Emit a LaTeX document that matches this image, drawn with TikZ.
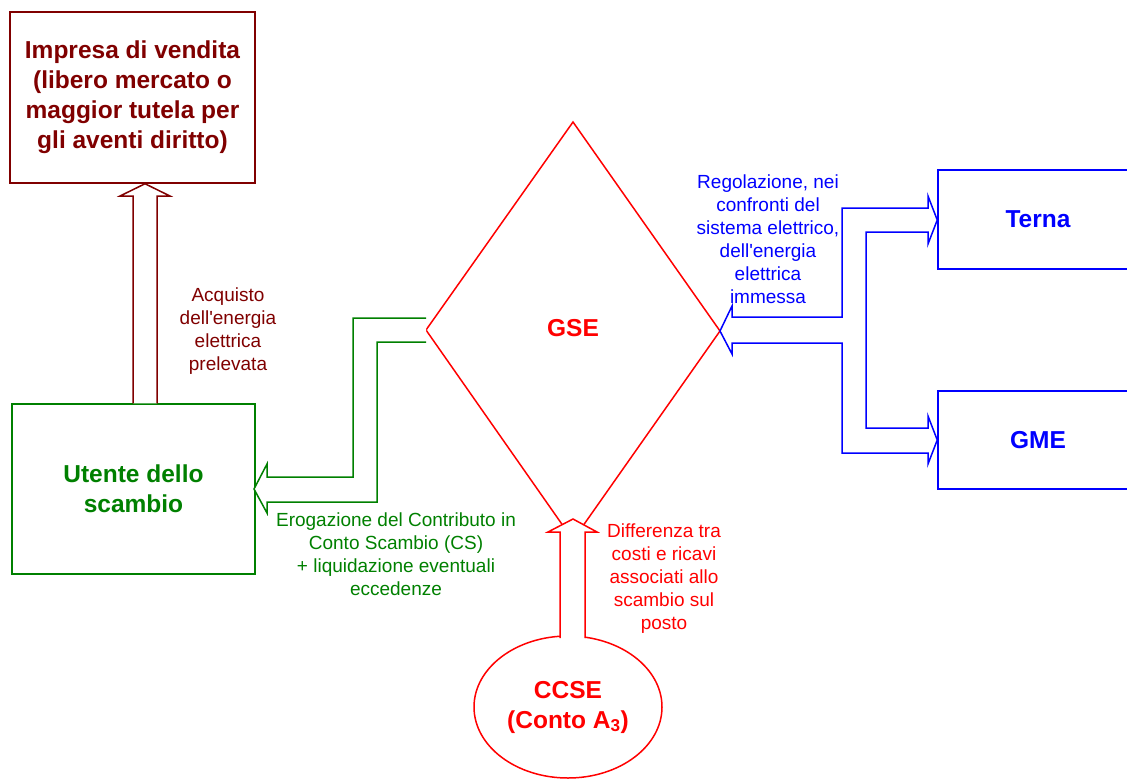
\documentclass[tikz,border=0pt]{standalone}
\usepackage{fontspec}
\setmainfont{Liberation Sans}
\usetikzlibrary{shapes.geometric,calc}
\definecolor{scuro}{HTML}{800000}
\definecolor{verde}{HTML}{008000}
\definecolor{blu}{HTML}{0000FF}
\definecolor{rosso}{HTML}{FF0000}

\begin{document}
\begin{tikzpicture}[x=1pt,y=-1pt,line width=1.5pt,
    titolo/.style={font=\bfseries\fontsize{24.5}{30}\selectfont,align=center},
    nota/.style={font=\fontsize{19}{23}\selectfont,align=center},
    scatola/.style={draw,inner sep=0pt}]
    \clip (0,0) rectangle (1127,780);

    % riquadri
    \node[scatola,titolo,scuro,minimum width=245pt,minimum height=171pt] (impresa) at (132.5,97.5)
        {Impresa di vendita\\(libero mercato o\\maggior tutela per\\gli aventi diritto)};
    \node[scatola,titolo,verde,minimum width=243pt,minimum height=170pt] (utente) at (133.5,489)
        {Utente dello\\scambio};
    \node[scatola,titolo,blu,minimum width=200pt,minimum height=99pt] (terna) at (1038,219.5) {Terna};
    \node[scatola,titolo,blu,minimum width=200pt,minimum height=98pt] (gme) at (1038,440) {GME};
    \node[ellipse,draw,titolo,rosso,inner sep=0pt,minimum width=188pt,minimum height=142pt] (ccse) at (568,707)
        {CCSE\\(Conto A\textsubscript{3})};

    % rombo GSE
    \coordinate (N) at (573,122);
    \coordinate (W) at (426,330);
    \coordinate (E) at (720,331);
    \coordinate (S) at (573,540);
    \draw[rosso] (N) -- (E) -- (S) -- (W) -- cycle;
    \node[titolo,rosso] (gse) at (573,328) {GSE};

    % frecce vuote
    \draw[scuro,fill=white] (utente.north -| 133,0) -- (133,196) -- (120,196) -- (impresa.south -| 145,0)
        -- (170,196) -- (157,196) -- (utente.north -| 157,0);
    \draw[rosso,fill=white] (560,638) -- (560,532) -- (548,532) -- (573,519)
        -- (597,532) -- (585,532) -- (585,638);
    \draw[verde,fill=white] (W |- 0,318) -- (353,318) -- (353,477) -- (267,477) -- (267,464)
        -- (254,489) -- (267,513) -- (267,502) -- (377,502) -- (377,342) -- (W |- 0,342);
    \draw[blu,fill=white] (732,317) -- (842,317) -- (842,208) -- (928,208) -- (928,196)
        -- (terna.west |- 0,220) -- (928,244) -- (928,232) -- (866,232) -- (866,428) -- (928,428)
        -- (928,416) -- (gme.west |- 0,440) -- (928,464) -- (928,453) -- (842,453) -- (842,343)
        -- (732,343) -- (732,354) -- (E) -- (732,306) -- cycle;

    % didascalie
    \node[nota,scuro] (acquisto) at (228,331) {Acquisto\\dell\textquotesingle energia\\elettrica\\prelevata};
    \node[nota,verde] (erogazione) at (396,554) {Erogazione del Contributo in\\Conto Scambio (CS)\\+ liquidazione eventuali\\eccedenze};
    \node[nota,rosso] (differenza) at (664,579) {Differenza tra\\costi e ricavi\\associati allo\\scambio sul\\posto};
    \node[nota,blu] (regolazione) at (768,239) {Regolazione, nei\\confronti del\\sistema elettrico,\\dell\textquotesingle energia\\elettrica\\immessa};
\end{tikzpicture}
\end{document}
